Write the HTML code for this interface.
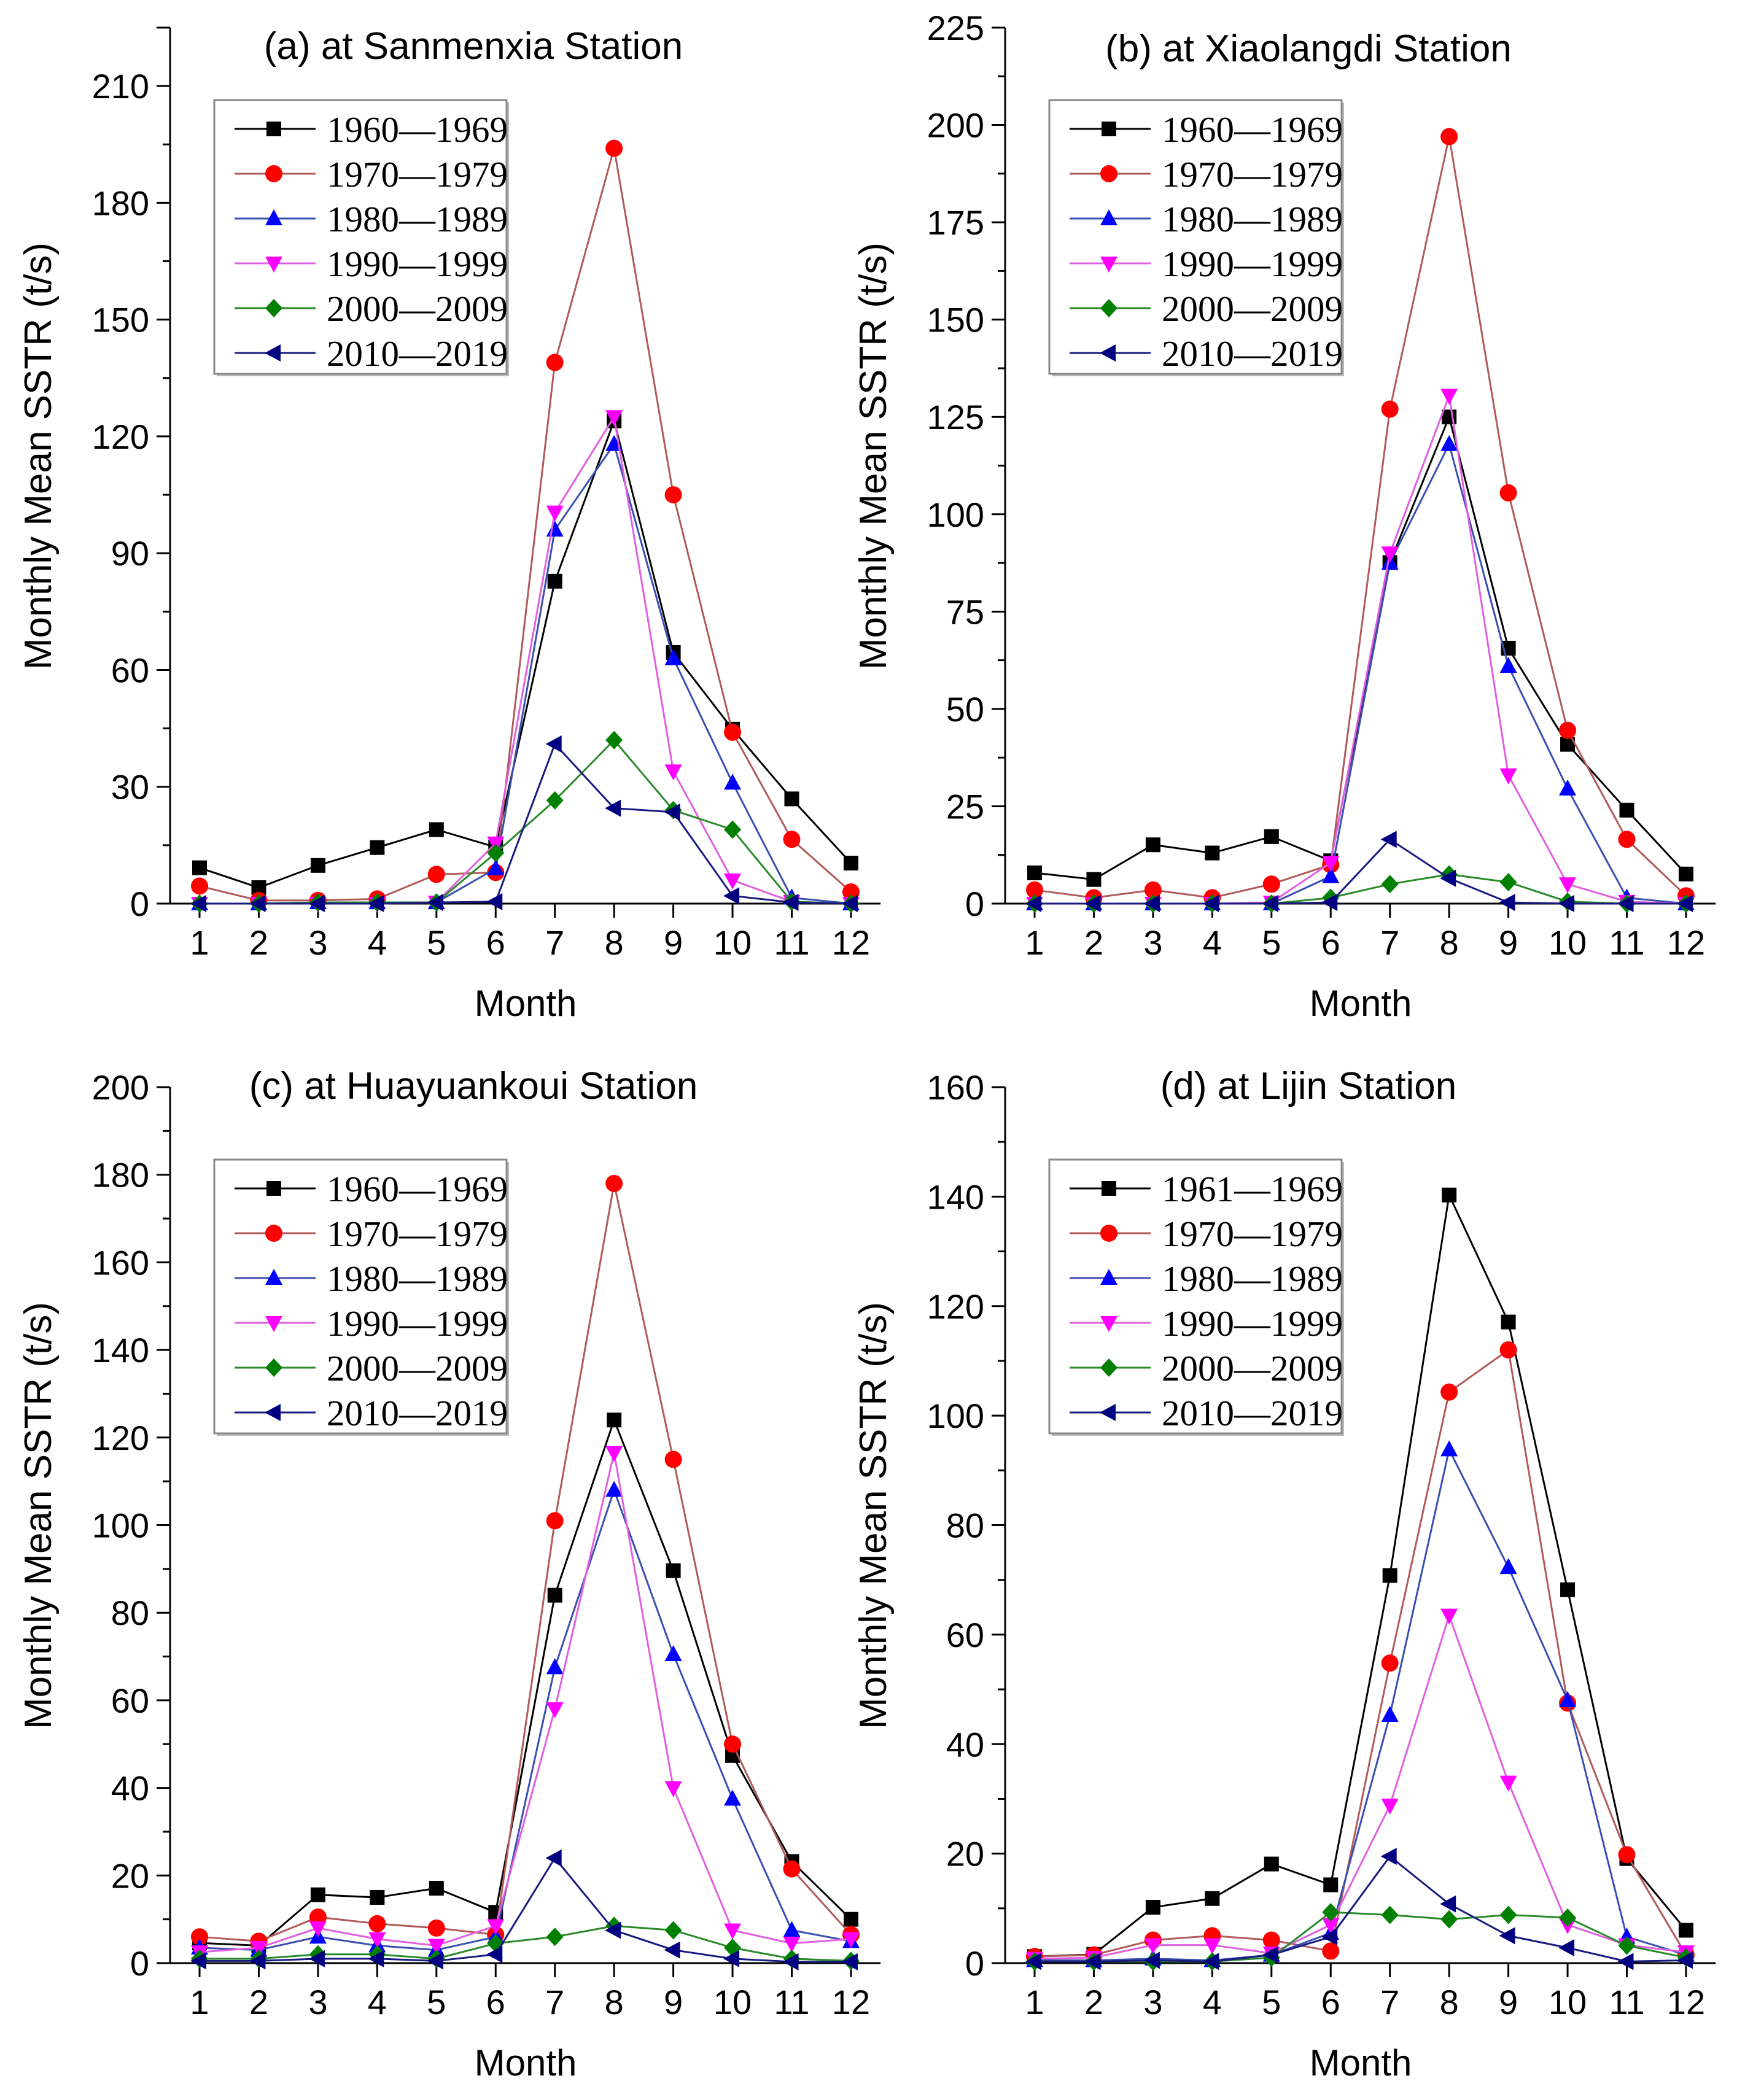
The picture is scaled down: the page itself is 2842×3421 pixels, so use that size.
<!DOCTYPE html>
<html><head><meta charset="utf-8"><style>
html,body{margin:0;padding:0;background:#fff}
svg{display:block}
</style></head><body>
<svg id="fig" width="2842" height="3421" viewBox="0 0 2842 3421" xmlns="http://www.w3.org/2000/svg"></svg>
<script>
const months = [1,2,3,4,5,6,7,8,9,10,11,12];
const seriesNames = ["1960—1969","1970—1979","1980—1989","1990—1999","2000—2009","2010—2019"];
const seriesNamesD = ["1961—1969","1970—1979","1980—1989","1990—1999","2000—2009","2010—2019"];
// Panel a: Sanmenxia
const aBlack = [9.2,4.1,9.8,14.4,19,14.5,82.8,124,64.5,44.8,26.9,10.4];
const aRed = [4.5,0.8,0.8,1.2,7.5,8,139,194,105,44,16.5,3];
const aBlue = [0,0,0.3,0.3,0.3,9,96,118,63,31,1.5,0];
const aMagenta = [0,0,0,0,0.3,15.5,100.5,125,34,6,0.5,0];
const aGreen = [0,0,0.3,0.3,0.3,13,26.5,42,24,19,0.5,0];
const aNavy = [0,0,0,0,0.3,0.5,41,24.5,23.5,2,0.3,0];
// Panel b: Xiaolangdi
const bBlack = [7.9,6.2,15.1,13,17.2,11,87.6,125,65.6,40.9,24,7.6];
const bRed = [3.5,1.5,3.5,1.5,5,10,127,197,105.5,44.5,16.5,2];
const bBlue = [0,0,0,0,0,7,87.5,118,61,29.5,1.5,0];
const bMagenta = [0,0,0,0,0.3,10.5,90,130.5,33,5,0.5,0];
const bGreen = [0,0,0,0,0,1.5,5,7.5,5.5,0.5,0,0];
const bNavy = [0,0,0,0,0,0.3,16.5,6.5,0.3,0,0,0];
// Panel c: Huayuankou
const cBlack = [4.6,4,15.6,15,17.1,11.6,84,124,89.6,47.4,23.2,10];
const cRed = [6,5,10.5,9,8,6.5,101,178,115,50,21.5,6.5];
const cBlue = [3.5,3,6,4,3,6,67.5,108,70.5,37.5,7.5,5];
const cMagenta = [2.5,3.5,8,5.5,4,8.5,58,116.5,40,7.5,4.5,5.5];
const cGreen = [1,1,2,2,1,4.5,6,8.5,7.5,3.5,1,0.5];
const cNavy = [0.5,0.5,1,1,0.5,2,24,7.5,3,1,0.3,0.3];
// Panel d: Lijin
const dBlack = [1.2,1.6,10.2,11.8,18.1,14.3,70.8,140.3,117.1,68.2,19.1,6];
const dRed = [1.2,1.5,4.2,5,4.2,2.2,54.8,104.3,112,47.5,19.8,1.5];
const dBlue = [0.5,0.5,0.8,0.5,1.5,5.5,45.3,93.8,72.3,48,4.8,1.5];
const dMagenta = [0.8,1,3.3,3.3,1.8,7,28.8,63.5,33,7,3.3,2];
const dGreen = [0.3,0.3,0.3,0.3,1,9.3,8.8,8,8.8,8.3,3.2,1];
const dNavy = [0.3,0.3,0.5,0.3,1.5,4.8,19.5,10.8,5,2.8,0.3,0.5];
// Axis ticks
const aTicks = [0,30,60,90,120,150,180,210];
const bTicks = [0,25,50,75,100,125,150,175,200,225];
const cTicks = [0,20,40,60,80,100,120,140,160,180,200];
const dTicks = [0,20,40,60,80,100,120,140,160];
const titles = ["(a) at Sanmenxia Station","(b) at Xiaolangdi Station","(c) at Huayuankoui Station","(d) at Lijin Station"];

const NS="http://www.w3.org/2000/svg";
const svg=document.getElementById('fig');
function el(tag,attrs,parent){const e=document.createElementNS(NS,tag);for(const k in attrs)e.setAttribute(k,attrs[k]);(parent||svg).appendChild(e);return e;}

const lineCols=["#000000","#b05a5a","#3a4fb0","#e060e0","#2a8a2a","#1a1a80"];
const markCols=["#000000","#ff0000","#0000ff","#ff00ff","#008000","#000080"];
const shapes=["square","circle","up","down","diamond","left"];

function marker(g,shape,x,y,col){
  let m;
  if(shape==="square") m=el('rect',{x:x-12,y:y-12,width:24,height:24,fill:col},g);
  else if(shape==="circle") m=el('circle',{cx:x,cy:y,r:14,fill:col},g);
  else {
    let p;
    if(shape==="up") p=[[x,y-15],[x+14,y+11],[x-14,y+11]];
    else if(shape==="down") p=[[x,y+15],[x+14,y-11],[x-14,y-11]];
    else if(shape==="diamond") p=[[x,y-15],[x+14,y],[x,y+15],[x-14,y]];
    else p=[[x-15,y],[x+11,y-14],[x+11,y+14]];
    m=el('polygon',{points:p.map(q=>q.join(',')).join(' '),fill:col},g);
  }
  return m;
}

function panel(ox,oy,ymax,ticks,minorStep,series,names,title,id,titleDy){
  const g=el('g',{});
  
  
  const x0=ox, y0=oy+1472, yTop=oy+45, axLen=1427;
  const yScale=v=>y0-v*(axLen/ymax);
  const xScale=m=>x0+48+(m-1)*96.45;
  const ya=el('line',{x1:x0,y1:y0,x2:x0,y2:yTop,stroke:'#000','stroke-width':3},g);
  
  const xa=el('line',{x1:x0-22,y1:y0,x2:xScale(12.5),y2:y0,stroke:'#000','stroke-width':3},g);
  
  el('line',{x1:x0-22,y1:yTop,x2:x0,y2:yTop,stroke:'#000','stroke-width':3},g);
  for(let v=0;v<=ymax+0.001;v+=minorStep){
    const isMajor=ticks.some(t=>Math.abs(t-v)<0.01);
    el('line',{x1:x0-(isMajor?22:12),y1:yScale(v),x2:x0,y2:yScale(v),stroke:'#000','stroke-width':3},g);
  }
  ticks.forEach(t=>{
    const tx=el('text',{x:x0-34,y:yScale(t)+20,'text-anchor':'end','font-family':'Liberation Sans, sans-serif','font-size':56,fill:'#000'},g);
    tx.textContent=t;
    
  });
  months.forEach(m=>{
    el('line',{x1:xScale(m),y1:y0,x2:xScale(m),y2:y0+23,stroke:'#000','stroke-width':3},g);
    const tx=el('text',{x:xScale(m),y:y0+83,'text-anchor':'middle','font-family':'Liberation Sans, sans-serif','font-size':56,fill:'#000'},g);
    tx.textContent=m;
    
  });
  const xt=el('text',{x:ox+579,y:oy+1655,'text-anchor':'middle','font-family':'Liberation Sans, sans-serif','font-size':60,fill:'#000'},g);
  xt.textContent='Month';
  
  const yt=el('text',{x:0,y:0,'text-anchor':'middle','font-family':'Liberation Sans, sans-serif','font-size':62,fill:'#000',transform:`translate(${ox-194},${oy+743}) rotate(-90)`},g);
  yt.textContent='Monthly Mean SSTR (t/s)';
  
  const tt=el('text',{x:ox+494,y:oy+100+titleDy,'text-anchor':'middle','font-family':'Liberation Sans, sans-serif','font-size':62,fill:'#000'},g);
  tt.textContent=title;
  
  series.forEach((s,i)=>{
    const sg=el('g',{},g);
    
    
    const pts=s.map((v,j)=>[xScale(months[j]),yScale(v)]);
    const pl=el('polyline',{points:pts.map(p=>p.join(',')).join(' '),fill:'none',stroke:lineCols[i],'stroke-width':3},sg);
    
    pts.forEach(p=>{
      const mk=marker(sg,shapes[i],p[0],p[1],markCols[i]);
      
      
    });
  });
  const lg=el('g',{},g);
  
  const lx=ox+72, ly=oy+163;
  el('rect',{x:lx+4,y:ly+4,width:476,height:446,fill:'#bbb'},lg);
  el('rect',{x:lx,y:ly,width:476,height:446,fill:'#fff',stroke:'#888','stroke-width':3},lg);
  names.forEach((n,i)=>{
    const cy=ly+47+i*73;
    const en=el('g',{},lg);
    
    el('line',{x1:lx+33,y1:cy,x2:lx+165,y2:cy,stroke:lineCols[i],'stroke-width':3},en);
    marker(en,shapes[i],lx+97,cy,markCols[i]);
    const t=el('text',{x:lx+183,y:cy+21,'font-family':'Liberation Serif, serif','font-size':59,fill:'#000'},en);
    t.textContent=n;
  });
}
panel(277,0,225,aTicks,15,[aBlack,aRed,aBlue,aMagenta,aGreen,aNavy],seriesNames,titles[0],'a',-4);
panel(1637,0,225,bTicks,12.5,[bBlack,bRed,bBlue,bMagenta,bGreen,bNavy],seriesNames,titles[1],'b',0);
panel(277,1726,200,cTicks,10,[cBlack,cRed,cBlue,cMagenta,cGreen,cNavy],seriesNames,titles[2],'c',-36);
panel(1637,1726,160,dTicks,10,[dBlack,dRed,dBlue,dMagenta,dGreen,dNavy],seriesNamesD,titles[3],'d',-36);
</script>
</body></html>
